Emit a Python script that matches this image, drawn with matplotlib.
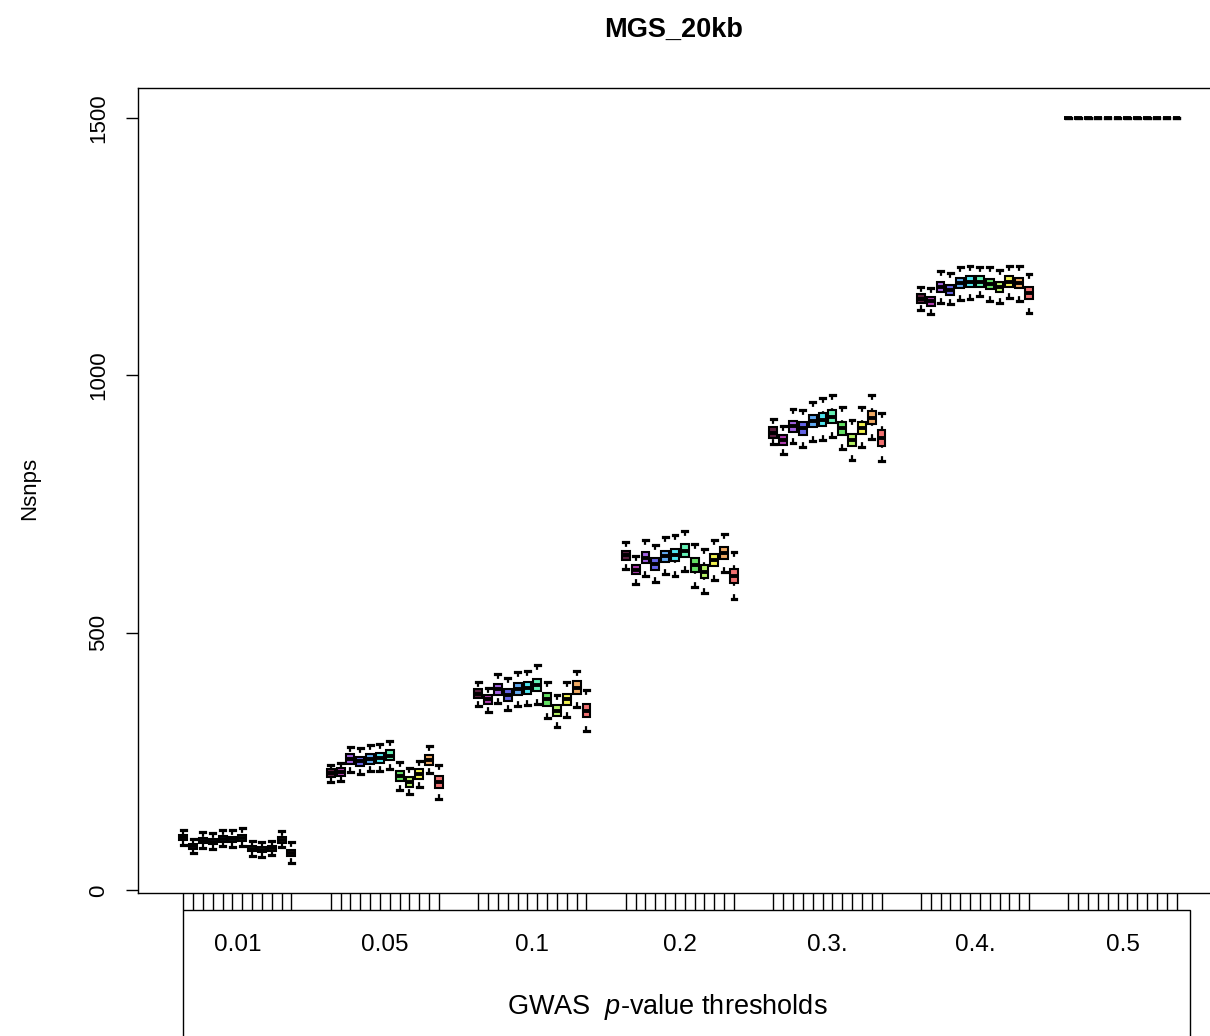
import matplotlib
matplotlib.use("Agg")
import matplotlib.pyplot as plt
from matplotlib.patches import Rectangle
from matplotlib.transforms import blended_transform_factory

plt.rcParams.update({
    "font.family": ["Liberation Sans", "DejaVu Sans"],
    "mathtext.fontset": "custom",
    "mathtext.rm": "Liberation Sans",
    "mathtext.it": "Liberation Sans:italic",
    "lines.scale_dashes": False,
})

THRESHOLDS = ["0.01", "0.05", "0.1", "0.2", "0.3.", "0.4.", "0.5"]

COLORS = ["#5c1f3f", "#b03cb0", "#a060e0", "#6464e6", "#60a8f0", "#50e6f0",
          "#64f0b4", "#64e064", "#b4f064", "#f0f050", "#f0aa64", "#f07070"]

MED = [
    [103, 86, 97, 95, 100, 99, 102, 81, 79, 82, 98, 72],
    [228, 230, 255, 251, 255, 257, 262, 222, 211, 226, 253, 210],
    [382, 371, 391, 380, 391, 393, 399, 371, 349, 371, 394, 349],
    [651, 623, 646, 634, 649, 651, 660, 632, 619, 642, 655, 611],
    [889, 875, 901, 897, 911, 914, 920, 897, 875, 898, 918, 878],
    [1149, 1144, 1171, 1166, 1179, 1182, 1182, 1177, 1171, 1182, 1180, 1160],
    [1500] * 12,
]
Q1 = [
    [98, 81, 92, 90, 95, 94, 97, 76, 74, 77, 93, 66],
    [220, 222, 246, 242, 246, 248, 253, 212, 201, 216, 243, 198],
    [373, 362, 380, 368, 380, 382, 387, 359, 338, 360, 382, 336],
    [642, 614, 635, 622, 638, 640, 648, 619, 606, 630, 643, 597],
    [879, 865, 890, 885, 899, 902, 908, 885, 863, 886, 906, 863],
    [1140, 1135, 1161, 1156, 1169, 1172, 1172, 1167, 1161, 1172, 1170, 1148],
    [1500] * 12,
]
Q3 = [
    [108, 91, 102, 100, 105, 104, 107, 86, 84, 87, 103, 78],
    [236, 238, 264, 260, 264, 266, 272, 232, 221, 236, 263, 222],
    [391, 380, 401, 392, 402, 404, 411, 383, 361, 382, 406, 362],
    [660, 632, 657, 646, 660, 662, 672, 645, 632, 654, 667, 625],
    [899, 885, 912, 909, 923, 926, 932, 909, 887, 910, 930, 893],
    [1158, 1153, 1181, 1176, 1189, 1192, 1192, 1187, 1181, 1192, 1190, 1172],
    [1500] * 12,
]
HI = [
    [118, 100, 113, 112, 117, 117, 121, 96, 95, 97, 116, 94],
    [244, 248, 279, 277, 282, 284, 290, 249, 237, 252, 281, 243],
    [404, 393, 420, 413, 425, 427, 437, 405, 380, 405, 427, 389],
    [677, 649, 680, 670, 686, 690, 698, 672, 663, 680, 692, 658],
    [915, 902, 935, 933, 948, 957, 961, 938, 914, 939, 961, 927],
    [1172, 1169, 1203, 1199, 1210, 1213, 1211, 1211, 1205, 1213, 1213, 1197],
    [1500] * 12,
]
LO = [
    [89, 72, 83, 81, 86, 85, 87, 67, 65, 68, 84, 53],
    [210, 212, 230, 227, 231, 232, 236, 196, 188, 200, 228, 178],
    [359, 346, 363, 350, 359, 360, 362, 335, 317, 336, 357, 310],
    [625, 595, 610, 598, 614, 610, 621, 590, 578, 603, 618, 566],
    [867, 847, 868, 860, 873, 875, 881, 857, 836, 860, 876, 833],
    [1126, 1119, 1140, 1138, 1146, 1148, 1155, 1145, 1140, 1150, 1145, 1122],
    [1500] * 12,
]

W, H = 1210, 1036
STEP = 15  # 12 boxes + 3 empty slots per threshold

fig = plt.figure(figsize=(W / 100, H / 100), dpi=100)
ax = fig.add_axes([138 / W, (H - 893) / H, (W - 138) / W, (893 - 88) / H])

stats, positions, faces = [], [], []
for g in range(len(THRESHOLDS)):
    for j in range(len(COLORS)):
        stats.append({"med": MED[g][j], "q1": Q1[g][j], "q3": Q3[g][j],
                      "whislo": LO[g][j], "whishi": HI[g][j], "fliers": []})
        positions.append(g * STEP + j)
        faces.append(COLORS[j])

bp = ax.bxp(stats, positions=positions, widths=0.8, capwidths=0.5,
            patch_artist=True, showfliers=False,
            boxprops={"edgecolor": "black", "linewidth": 1.5},
            medianprops={"color": "black", "linewidth": 2.8, "solid_capstyle": "butt"},
            whiskerprops={"color": "black", "linewidth": 1.6, "linestyle": (0, (3.5, 6.0))},
            capprops={"color": "black", "linewidth": 2.3})
for patch, c in zip(bp["boxes"], faces):
    patch.set_facecolor(c)
# dash pattern starts at the staple, as in R's bxp
for wl in bp["whiskers"]:
    xs, ys = wl.get_data()
    wl.set_data(xs[::-1], ys[::-1])

lo = min(min(r) for r in LO)
hi = max(max(r) for r in HI)
pad = 0.04 * (hi - lo)
ax.set_ylim(lo - pad, hi + pad)
ax.set_xlim(-4.6, 104.4)

ax.spines["right"].set_visible(False)
for s in ("left", "top", "bottom"):
    ax.spines[s].set_linewidth(1.0)

ax.set_xticks(positions)
ax.set_xticklabels([])
ax.tick_params(axis="x", direction="out", length=12.5, width=1.0)
ax.set_yticks([0, 500, 1000, 1500])
ax.set_yticklabels(["0", "500", "1000", "1500"], rotation=90, va="center", fontsize=16)
ax.tick_params(axis="y", direction="out", length=8.5, width=1.0, pad=12)

# threshold labels inside the lower frame
trans = blended_transform_factory(ax.transData, fig.transFigure)
for g, lab in enumerate(THRESHOLDS):
    ax.text(g * STEP + 5.5, 1 - 945 / H, lab, transform=trans,
            ha="center", va="center", fontsize=17.5)

fig.add_artist(Rectangle((183 / W, -0.05), (1190 - 183) / W, 0.05 + (H - 910) / H,
                         transform=fig.transFigure, fill=False,
                         edgecolor="black", linewidth=1.0))

fig.text(667 / W, 1 - 1007 / H, r"GWAS  $p$-value thresholds",
         ha="center", va="center", fontsize=19.5)
fig.text(30 / W, 1 - 488 / H, "Nsnps", rotation=90,
         ha="center", va="center", fontsize=16)
fig.text(674 / W, 1 - 30 / H, "MGS_20kb", ha="center", va="center",
         fontsize=19.5, fontweight="bold")

fig.savefig("out.png", dpi=100)
